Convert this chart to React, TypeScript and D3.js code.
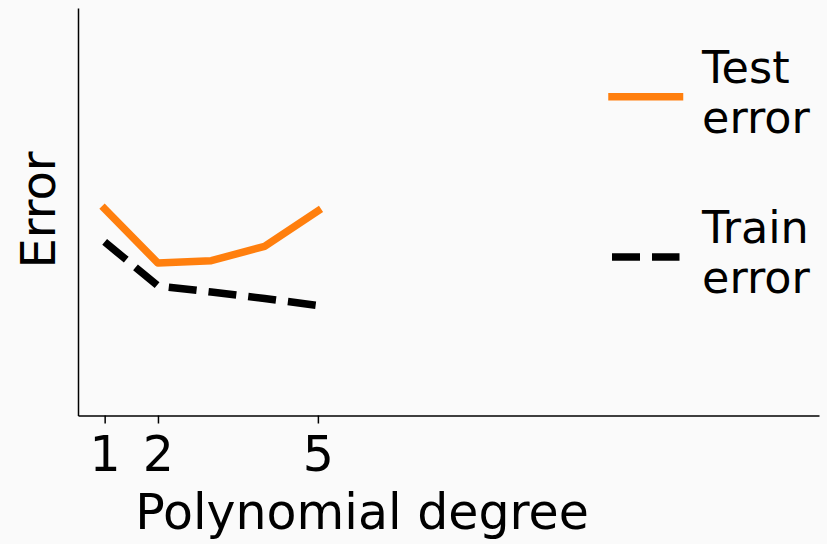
import React, { useEffect, useRef } from "react";
import * as d3 from "d3";

// values (y has no ticks, arbitrary units)
const degrees = [1, 2, 3, 4, 5];
const testError = [5.07, 3.74, 3.8, 4.15, 5.02];
const trainError = [4.26, 3.18, 3.03, 2.87, 2.7];
const xTicks = [1, 2, 5];
const seriesNames = ["Test error", "Train error"];
const seriesColors = ["#ff7f0e", "#000000"];

export default function App() {
  const ref = useRef<SVGSVGElement | null>(null);

  useEffect(() => {
    const width = 827;
    const height = 544;
    const svg = d3.select(ref.current);
    svg.selectAll("*").remove();
    svg.attr("width", width).attr("height", height);

    svg.append("rect").attr("width", width).attr("height", height).attr("fill", "#fafafa");

    const left = 78, right = 819, top = 8, bottom = 415.5;
    const x = d3.scaleLinear().domain([0.5, 14.4]).range([left, right]);
    const y = d3.scaleLinear().domain([0, 10]).range([bottom, top]);
    const font = "DejaVu Sans, sans-serif";

    // bottom axis
    const xAxis = svg.append("g")
      .attr("transform", `translate(0, ${bottom})`)
      .call(d3.axisBottom(x).tickValues(xTicks).tickSize(8).tickSizeOuter(0).tickFormat(d => `${d}`));
    xAxis.select(".domain").attr("stroke", "#000").attr("stroke-width", 1.5);
    xAxis.selectAll(".tick line").attr("stroke", "#000").attr("stroke-width", 1.5);
    xAxis.selectAll(".tick text")
      .attr("y", 55).attr("dy", null)
      .attr("fill", "#000")
      .style("font-family", font).style("font-size", "49px");

    // left spine, no ticks
    const yAxis = svg.append("g")
      .attr("transform", `translate(${left}, 0)`)
      .call(d3.axisLeft(y).tickValues([]).tickSizeOuter(0));
    yAxis.select(".domain").attr("stroke", "#000").attr("stroke-width", 1.5);

    const line = d3.line<number>()
      .x((d, i) => x(degrees[i]))
      .y(d => y(d));

    svg.append("path")
      .datum(testError)
      .attr("d", line)
      .attr("fill", "none")
      .attr("stroke", seriesColors[0])
      .attr("stroke-width", 7.5)
      .attr("stroke-linecap", "square")
      .attr("stroke-linejoin", "round");

    svg.append("path")
      .datum(trainError)
      .attr("d", line)
      .attr("fill", "none")
      .attr("stroke", seriesColors[1])
      .attr("stroke-width", 7.5)
      .attr("stroke-dasharray", "28 12")
      .attr("stroke-linejoin", "round");

    // axis labels
    svg.append("text")
      .attr("x", 362).attr("y", 529)
      .attr("text-anchor", "middle")
      .style("font-family", font).style("font-size", "49px")
      .text("Polynomial degree");

    svg.append("text")
      .attr("transform", "translate(55, 210) rotate(-90)")
      .attr("text-anchor", "middle")
      .style("font-family", font).style("font-size", "48px")
      .text("Error");

    // legend
    const legendY = [96.7, 257];
    seriesNames.forEach((name, i) => {
      const g = svg.append("g");
      g.append("line")
        .attr("x1", 612).attr("x2", 679.5)
        .attr("y1", legendY[i]).attr("y2", legendY[i])
        .attr("stroke", seriesColors[i])
        .attr("stroke-width", 7.5)
        .attr("stroke-linecap", i === 0 ? "square" : "butt")
        .attr("stroke-dasharray", i === 0 ? null : "28 12");
      const words = name.split(" ");
      const base = i === 0 ? 83.3 : 243;
      words.forEach((w, j) => {
        g.append("text")
          .attr("x", 702).attr("y", base + j * 49.5)
          .style("font-family", font).style("font-size", "44.5px")
          .text(w);
      });
    });
  }, []);

  return (
    <svg ref={ref} style={{ position: "absolute", left: 0, top: 0, display: "block" }}></svg>
  );
}
